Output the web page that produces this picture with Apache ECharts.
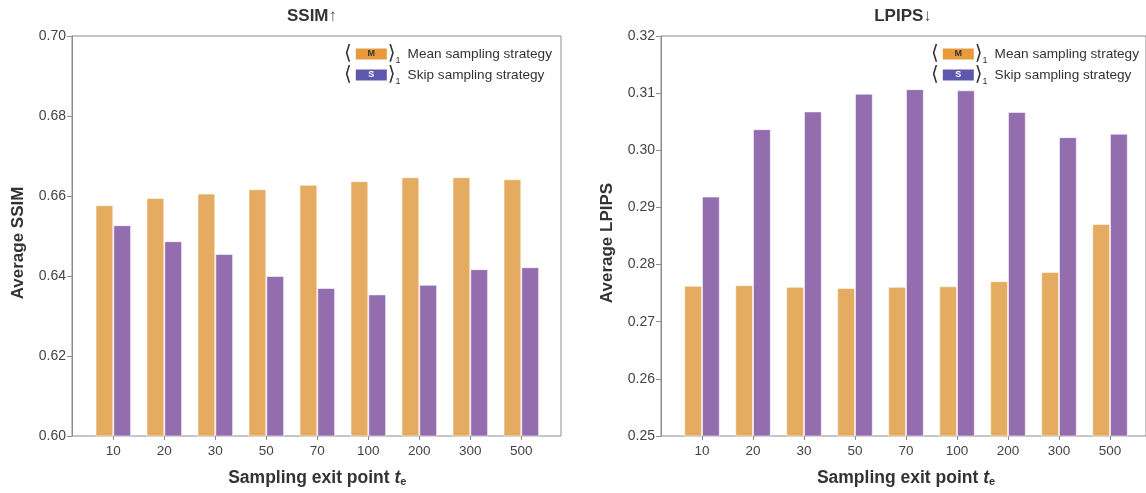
<!DOCTYPE html>
<html>
<head>
<meta charset="utf-8">
<script src="https://cdn.jsdelivr.net/npm/echarts@6/dist/echarts.min.js"></script>
<style>
  html, body { margin: 0; padding: 0; background: #fff; }
  #chart { width: 1146px; height: 493px; }
</style>
</head>
<body>
<div id="chart"></div>
<script>
  // 数据
  var exitPoints = ['10', '20', '30', '50', '70', '100', '200', '300', '500']
  var ssimMean = [0.6577, 0.6595, 0.6606, 0.6617, 0.6628, 0.6637, 0.6647, 0.6647, 0.6642]
  var ssimSkip = [0.6527, 0.6487, 0.6455, 0.6400, 0.6370, 0.6354, 0.6378, 0.6417, 0.6422]
  var lpipsMean = [0.2763, 0.2764, 0.2761, 0.2759, 0.2761, 0.2762, 0.2771, 0.2787, 0.2871]
  var lpipsSkip = [0.2919, 0.3037, 0.3068, 0.3099, 0.3107, 0.3105, 0.3067, 0.3023, 0.3029]
  var ssimTicks = [0.60, 0.70, 0.02]
  var lpipsTicks = [0.25, 0.32, 0.01]

  var font = 'Liberation Sans, Arial, Helvetica, sans-serif'
  var orange = '#E5AC61'
  var purple = '#936DAE'
  var frameColor = '#8c8c8c'

  var myChart = echarts.init(document.getElementById('chart'))

  function legendFormatter (name) {
    if (name === 'Mean sampling strategy') {
      return '{bl|⟨}{m|M}{br|⟩}{sub|1}{t|Mean sampling strategy}'
    }
    return '{bl|⟨}{s|S}{br|⟩}{sub|1}{t|Skip sampling strategy}'
  }

  var legendRich = {
    bl: { fontSize: 20, color: '#333', lineHeight: 22, fontFamily: 'DejaVu Sans', padding: [0, 4, 0, 0] },
    br: { fontSize: 20, color: '#333', lineHeight: 22, fontFamily: 'DejaVu Sans', padding: [0, 0, 0, 1] },
    m: { backgroundColor: '#E8993C', color: '#333', fontSize: 9, fontWeight: 'bold', width: 31, height: 11, align: 'center', lineHeight: 11 },
    s: { backgroundColor: '#5E58AC', color: '#fff', fontSize: 9, fontWeight: 'bold', width: 31, height: 11, align: 'center', lineHeight: 11 },
    sub: { fontSize: 9, color: '#333', verticalAlign: 'bottom', padding: [9, 7, 0, 0], lineHeight: 22 },
    t: { fontSize: 13.6, color: '#333', fontFamily: font, lineHeight: 22 }
  }

  function makeLegend (left) {
    return {
      left: left,
      top: 39,
      orient: 'vertical',
      itemWidth: 0,
      itemHeight: 0,
      itemGap: 0,
      selectedMode: false,
      formatter: legendFormatter,
      textStyle: { rich: legendRich },
      data: ['Mean sampling strategy', 'Skip sampling strategy']
    }
  }

  function frameYAxis (gridIndex, ticks, name) {
    return {
      type: 'value',
      gridIndex: gridIndex,
      min: ticks[0],
      max: ticks[1],
      interval: ticks[2],
      name: name,
      nameLocation: 'middle',
      nameGap: 45,
      nameTextStyle: { fontFamily: font, fontSize: 17, fontWeight: 'bold', color: '#333', padding: [0, 14, 0, 0] },
      axisLine: { show: true, lineStyle: { color: frameColor, width: 1 } },
      axisTick: { show: true, length: 5, lineStyle: { color: frameColor } },
      axisLabel: {
        fontFamily: font, fontSize: 14, color: '#444', margin: 6,
        formatter: function (v) { return v.toFixed(2) }
      },
      splitLine: { show: false }
    }
  }

  function barXAxis (gridIndex) {
    return {
      type: 'category',
      gridIndex: gridIndex,
      data: exitPoints,
      name: '{n|Sampling exit point }{t|t}{e|e}',
      nameLocation: 'middle',
      nameGap: 33,
      nameTextStyle: {
        rich: {
          n: { fontFamily: font, fontSize: 17.5, fontWeight: 'bold', color: '#333' },
          t: { fontFamily: font, fontSize: 17.5, fontWeight: 'bold', fontStyle: 'italic', color: '#333' },
          e: { fontFamily: font, fontSize: 11, fontWeight: 'bold', color: '#333', verticalAlign: 'bottom', padding: [7, 0, 0, 0] }
        }
      },
      axisLine: { show: false },
      axisTick: { show: true, alignWithLabel: true, length: 4, lineStyle: { color: frameColor } },
      axisLabel: { fontFamily: font, fontSize: 13.5, color: '#444', margin: 8 }
    }
  }

  function hiddenYAxis (gridIndex, ticks) {
    return { type: 'value', gridIndex: gridIndex, min: ticks[0], max: ticks[1], show: false }
  }

  function barSeries (name, data, color, idx) {
    return {
      name: name,
      type: 'bar',
      xAxisIndex: idx,
      yAxisIndex: idx,
      barWidth: 17.8,
      barGap: '0%',
      itemStyle: { color: color, borderColor: 'rgba(255,255,255,0.55)', borderWidth: 1 },
      data: data
    }
  }

  var option = {
    animation: false,
    title: [
      {
        text: '{b|SSIM}{a|↑}', left: 307, top: 3, textAlign: 'center',
        textStyle: { rich: { b: { fontFamily: font, fontSize: 17, fontWeight: 'bold', color: '#333' }, a: { fontFamily: font, fontSize: 17, color: '#555' } } }
      },
      {
        text: '{b|LPIPS}{a|↓}', left: 898, top: 3, textAlign: 'center',
        textStyle: { rich: { b: { fontFamily: font, fontSize: 17, fontWeight: 'bold', color: '#333' }, a: { fontFamily: font, fontSize: 17, color: '#555' } } }
      }
    ],
    legend: [makeLegend(333), makeLegend(920)],
    grid: [
      // frames
      { left: 72, top: 36, width: 489, height: 400, show: true, borderColor: frameColor, borderWidth: 1, backgroundColor: 'transparent' },
      { left: 661, top: 36, width: 489, height: 400, show: true, borderColor: frameColor, borderWidth: 1, backgroundColor: 'transparent' },
      // bars
      { left: 87.8, top: 36, width: 459, height: 400 },
      { left: 676.5, top: 36, width: 459, height: 400 }
    ],
    xAxis: [
      { type: 'value', gridIndex: 0, show: false, min: 0, max: 1 },
      { type: 'value', gridIndex: 1, show: false, min: 0, max: 1 },
      barXAxis(2),
      barXAxis(3)
    ],
    yAxis: [
      frameYAxis(0, ssimTicks, 'Average SSIM'),
      frameYAxis(1, lpipsTicks, 'Average LPIPS'),
      hiddenYAxis(2, ssimTicks),
      hiddenYAxis(3, lpipsTicks)
    ],
    series: [
      barSeries('Mean sampling strategy', ssimMean, orange, 2),
      barSeries('Skip sampling strategy', ssimSkip, purple, 2),
      barSeries('Mean sampling strategy', lpipsMean, orange, 3),
      barSeries('Skip sampling strategy', lpipsSkip, purple, 3)
    ]
  }
  myChart.setOption(option)
</script>
</body>
</html>
